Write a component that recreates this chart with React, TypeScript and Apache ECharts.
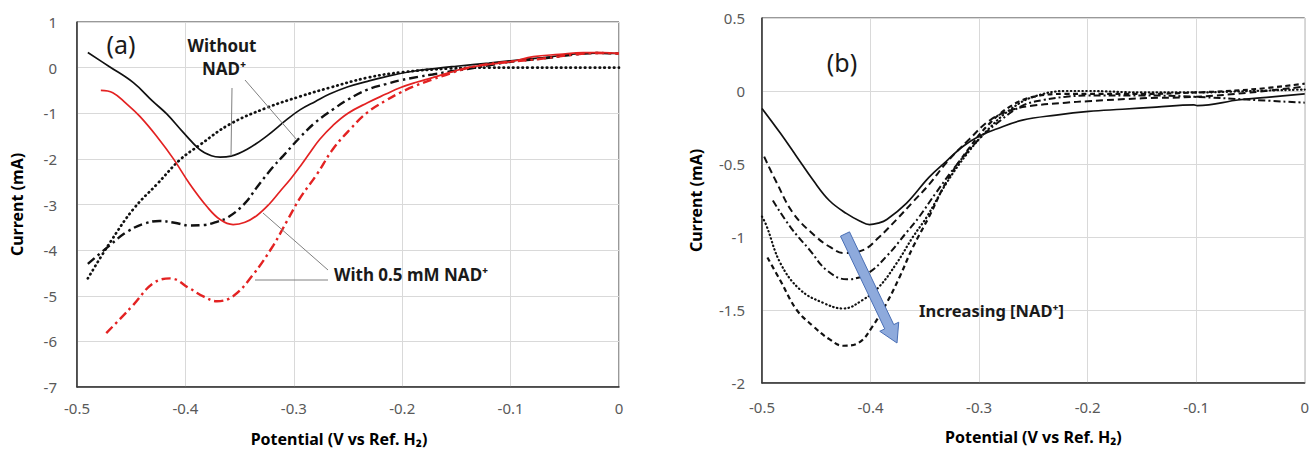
import React, { useEffect, useRef } from "react";
import * as echarts from "echarts";

// ---------- Panel (a) data ----------
const aNoNadSolidV = [-0.49, -0.47, -0.448, -0.43, -0.417, -0.402, -0.387, -0.376, -0.368, -0.358, -0.343, -0.325, -0.306, -0.294, -0.28, -0.267, -0.25, -0.232, -0.21, -0.19, -0.17, -0.15, -0.12, -0.1, -0.07, -0.04, -0.02, 0];
const aNoNadSolidI = [0.33, 0.02, -0.33, -0.74, -1.02, -1.42, -1.79, -1.93, -1.96, -1.94, -1.79, -1.5, -1.13, -0.92, -0.74, -0.58, -0.42, -0.3, -0.17, -0.08, -0.02, 0.03, 0.1, 0.15, 0.22, 0.3, 0.32, 0.31];

const aDottedV = [-0.49, -0.47, -0.448, -0.426, -0.405, -0.387, -0.359, -0.325, -0.294, -0.267, -0.232, -0.2, -0.156, -0.12, -0.08, -0.04, 0];
const aDottedI = [-4.62, -3.85, -3.1, -2.55, -2.02, -1.7, -1.24, -0.88, -0.63, -0.44, -0.22, -0.1, -0.02, 0, 0, 0, 0];

const aDashDotV = [-0.49, -0.47, -0.454, -0.438, -0.424, -0.41, -0.396, -0.383, -0.371, -0.36, -0.345, -0.334, -0.32, -0.31, -0.294, -0.28, -0.264, -0.25, -0.232, -0.215, -0.202, -0.185, -0.172, -0.155, -0.14, -0.12, -0.1, -0.07, -0.04, -0.02, 0];
const aDashDotI = [-4.3, -3.9, -3.6, -3.42, -3.36, -3.4, -3.46, -3.45, -3.38, -3.27, -2.97, -2.62, -2.2, -1.94, -1.52, -1.2, -0.92, -0.7, -0.48, -0.36, -0.28, -0.2, -0.15, -0.08, -0.03, 0.05, 0.13, 0.2, 0.29, 0.32, 0.31];

const aRedSolidV = [-0.478, -0.467, -0.455, -0.442, -0.426, -0.411, -0.396, -0.38, -0.368, -0.356, -0.345, -0.334, -0.323, -0.313, -0.303, -0.294, -0.285, -0.276, -0.264, -0.25, -0.232, -0.215, -0.202, -0.187, -0.172, -0.155, -0.14, -0.12, -0.1, -0.079, -0.055, -0.033, -0.015, 0];
const aRedSolidI = [-0.5, -0.55, -0.78, -1.07, -1.52, -2.0, -2.55, -3.05, -3.33, -3.44, -3.39, -3.24, -3.0, -2.72, -2.44, -2.16, -1.86, -1.57, -1.27, -1.0, -0.77, -0.58, -0.44, -0.32, -0.22, -0.1, 0, 0.07, 0.13, 0.24, 0.29, 0.33, 0.33, 0.31];

const aRedDashDotV = [-0.473, -0.46, -0.448, -0.43, -0.414, -0.396, -0.383, -0.371, -0.356, -0.338, -0.319, -0.306, -0.294, -0.279, -0.264, -0.248, -0.232, -0.215, -0.202, -0.187, -0.172, -0.155, -0.14, -0.12, -0.1, -0.07, -0.04, -0.02, 0];
const aRedDashDotI = [-5.82, -5.5, -5.2, -4.73, -4.62, -4.84, -5.02, -5.12, -5.01, -4.55, -3.9, -3.35, -2.85, -2.35, -1.79, -1.35, -0.98, -0.72, -0.55, -0.39, -0.26, -0.12, -0.01, 0.08, 0.13, 0.2, 0.29, 0.32, 0.31];

// ---------- Panel (b) data ----------
const bSolidV = [-0.5, -0.483, -0.468, -0.453, -0.438, -0.422, -0.41, -0.401, -0.393, -0.385, -0.367, -0.346, -0.33, -0.315, -0.3, -0.284, -0.26, -0.229, -0.199, -0.168, -0.137, -0.102, -0.099, -0.06, -0.03, 0];
const bSolidI = [-0.12, -0.29, -0.45, -0.61, -0.75, -0.84, -0.89, -0.915, -0.905, -0.88, -0.77, -0.59, -0.48, -0.38, -0.31, -0.26, -0.2, -0.165, -0.14, -0.125, -0.11, -0.095, -0.1, -0.06, -0.04, -0.02];

const bLongDashV = [-0.498, -0.487, -0.471, -0.45, -0.437, -0.425, -0.407, -0.392, -0.376, -0.361, -0.346, -0.33, -0.309, -0.29, -0.27, -0.25, -0.22, -0.2, -0.15, -0.1, -0.05, 0];
const bLongDashI = [-0.45, -0.62, -0.84, -1.0, -1.07, -1.11, -1.09, -1.0, -0.88, -0.76, -0.64, -0.49, -0.33, -0.2, -0.13, -0.1, -0.08, -0.07, -0.05, -0.04, -0.01, 0.03];

const bDashDotV = [-0.49, -0.474, -0.456, -0.44, -0.422, -0.403, -0.385, -0.367, -0.355, -0.34, -0.32, -0.3, -0.28, -0.26, -0.24, -0.22, -0.2, -0.15, -0.1, -0.05, 0];
const bDashDotI = [-0.75, -0.93, -1.09, -1.23, -1.29, -1.25, -1.13, -0.97, -0.86, -0.7, -0.5, -0.33, -0.2, -0.1, -0.06, -0.04, -0.03, -0.03, -0.04, -0.06, -0.08];

const bDottedV = [-0.5, -0.496, -0.483, -0.465, -0.444, -0.425, -0.407, -0.392, -0.376, -0.361, -0.348, -0.33, -0.31, -0.29, -0.27, -0.25, -0.22, -0.2, -0.15, -0.1, -0.05, 0];
const bDottedI = [-0.86, -0.92, -1.18, -1.36, -1.45, -1.49, -1.43, -1.34, -1.18, -1.0, -0.86, -0.63, -0.42, -0.25, -0.12, -0.04, 0.0, 0.0, -0.01, -0.01, 0.0, 0.01];

const bShortDashV = [-0.495, -0.483, -0.468, -0.453, -0.438, -0.425, -0.41, -0.398, -0.385, -0.373, -0.361, -0.346, -0.33, -0.31, -0.29, -0.27, -0.25, -0.22, -0.2, -0.15, -0.1, -0.05, 0];
const bShortDashI = [-1.14, -1.3, -1.5, -1.61, -1.7, -1.745, -1.72, -1.61, -1.45, -1.27, -1.07, -0.86, -0.62, -0.4, -0.22, -0.1, -0.04, -0.02, -0.02, -0.02, -0.01, 0.01, 0.05];

// ---------- axes ----------
const xMin = -0.5, xMax = 0, xStep = 0.1;
const aYMin = -7, aYMax = 1, aYStep = 1;
const bYMin = -2, bYMax = 0.5, bYStep = 0.5;

const xTitle = "Potential (V vs Ref. H₂)";
const yTitle = "Current (mA)";

const pairs = (x: number[], y: number[]) => x.map((v, i) => [v, y[i]]);

const FONT = "'Noto Sans', 'Open Sans', sans-serif";
const BLACK = "#111111";
const RED = "#e32222";
const GRAY_LINE = "#808080";

function arrowPoints(sx: number, sy: number, tx: number, ty: number, shaft: number, head: number, headLen: number) {
  const dx = tx - sx, dy = ty - sy;
  const L = Math.sqrt(dx * dx + dy * dy);
  const ux = dx / L, uy = dy / L;
  const nx = -uy, ny = ux;
  const hx = tx - ux * headLen, hy = ty - uy * headLen;
  return [
    [sx + nx * shaft, sy + ny * shaft],
    [hx + nx * shaft, hy + ny * shaft],
    [hx + nx * head, hy + ny * head],
    [tx, ty],
    [hx - nx * head, hy - ny * head],
    [hx - nx * shaft, hy - ny * shaft],
    [sx - nx * shaft, sy - ny * shaft],
  ];
}

function lineSeries(name: string, data: number[][], idx: number, color: string, width: number, type: any, cap: string = "butt") {
  return {
    name,
    type: "line",
    xAxisIndex: idx,
    yAxisIndex: idx,
    data,
    showSymbol: false,
    smooth: 0.4,
    lineStyle: { color, width, type, cap },
    z: 3,
  };
}

export default function App() {
  const ref = useRef<HTMLDivElement>(null);
  useEffect(() => {
    if (!ref.current) return;
    const chart = echarts.init(ref.current, undefined, { renderer: "svg" });

    const xAxisBase = (idx: number, nameGap: number, labelMargin: number, namePad: number[]) => ({
      type: "value",
      gridIndex: idx,
      min: xMin,
      max: xMax,
      interval: xStep,
      name: xTitle,
      nameLocation: "middle",
      nameGap,
      nameTextStyle: { fontFamily: FONT, fontWeight: "bold", fontSize: 16, color: "#000", padding: namePad },
      axisLine: { show: true, onZero: false, lineStyle: { color: "#333", width: 1.5 } },
      axisTick: { show: false },
      axisLabel: { fontFamily: FONT, fontSize: 15, color: "#595959", margin: labelMargin },
      splitLine: { show: true, lineStyle: { color: "#d9d9d9", width: 1 } },
    });
    const yAxisBase = (idx: number, min: number, max: number, interval: number, nameGap: number, labelMargin: number) => ({
      type: "value",
      gridIndex: idx,
      min,
      max,
      interval,
      name: yTitle,
      nameLocation: "middle",
      nameGap,
      nameTextStyle: { fontFamily: FONT, fontWeight: "bold", fontSize: 16, color: "#000" },
      axisLine: { show: true, onZero: false, lineStyle: { color: "#333", width: 1.5 } },
      axisTick: { show: false },
      axisLabel: { fontFamily: FONT, fontSize: 15, color: "#595959", margin: labelMargin },
      splitLine: { show: true, lineStyle: { color: "#d9d9d9", width: 1 } },
    });

    const arrow = arrowPoints(845, 234, 897, 343, 5, 10.5, 18);

    const textStyle = (size: number, weight: string) => ({
      fontFamily: FONT,
      fontSize: size,
      fontWeight: weight,
      fill: "#1a1a1a",
    });

    chart.setOption({
      animation: false,
      backgroundColor: "#ffffff",
      grid: [
        { left: 77, top: 22, width: 542, height: 367, show: true, borderColor: "#333", borderWidth: 1, backgroundColor: "transparent" },
        { left: 762, top: 18, width: 544, height: 365, show: true, borderColor: "#333", borderWidth: 1, backgroundColor: "transparent" },
      ],
      xAxis: [xAxisBase(0, 44, 13, [0, 18, 0, 0]), xAxisBase(1, 46, 16, [0, 0, 0, 0])],
      yAxis: [yAxisBase(0, aYMin, aYMax, aYStep, 52, 20), yAxisBase(1, bYMin, bYMax, bYStep, 58, 17)],
      series: [
        lineSeries("Without NAD+ (background)", pairs(aDottedV, aDottedI), 0, BLACK, 2.7, [0.5, 4.3], "round"),
        lineSeries("Without NAD+", pairs(aNoNadSolidV, aNoNadSolidI), 0, BLACK, 1.7, "solid"),
        lineSeries("Without NAD+ dash-dot", pairs(aDashDotV, aDashDotI), 0, BLACK, 2.4, [9, 4, 2.5, 4]),
        lineSeries("With 0.5 mM NAD+", pairs(aRedSolidV, aRedSolidI), 0, RED, 1.7, "solid"),
        lineSeries("With 0.5 mM NAD+ dash-dot", pairs(aRedDashDotV, aRedDashDotI), 0, RED, 2.4, [9, 4, 2.5, 4]),
        lineSeries("b1", pairs(bSolidV, bSolidI), 1, BLACK, 1.7, "solid"),
        lineSeries("b2", pairs(bLongDashV, bLongDashI), 1, BLACK, 2, [7, 4]),
        lineSeries("b3", pairs(bDashDotV, bDashDotI), 1, BLACK, 2, [7, 3, 2, 3]),
        lineSeries("b4", pairs(bDottedV, bDottedI), 1, BLACK, 2.2, [0.5, 3.4], "round"),
        lineSeries("b5", pairs(bShortDashV, bShortDashI), 1, BLACK, 2.2, [5, 3.5]),
      ],
      graphic: [
        { type: "text", x: 121, y: 44, style: { text: "(a)", align: "center", verticalAlign: "middle", ...textStyle(25, "normal") }, z: 10 },
        { type: "text", x: 222, y: 45, style: { text: "Without", align: "center", verticalAlign: "middle", ...textStyle(17, "bold") }, z: 10 },
        { type: "text", x: 224, y: 68, style: { text: "NAD⁺", align: "center", verticalAlign: "middle", ...textStyle(17, "bold") }, z: 10 },
        { type: "line", shape: { x1: 232, y1: 88, x2: 231, y2: 156 }, style: { stroke: GRAY_LINE, lineWidth: 1 }, z: 10 },
        { type: "line", shape: { x1: 245, y1: 80, x2: 297, y2: 140 }, style: { stroke: GRAY_LINE, lineWidth: 1 }, z: 10 },
        { type: "line", shape: { x1: 263, y1: 213, x2: 328, y2: 270 }, style: { stroke: GRAY_LINE, lineWidth: 1 }, z: 10 },
        { type: "line", shape: { x1: 255, y1: 280, x2: 328, y2: 280 }, style: { stroke: GRAY_LINE, lineWidth: 1 }, z: 10 },
        { type: "text", x: 334, y: 274, style: { text: "With 0.5 mM NAD⁺", align: "left", verticalAlign: "middle", ...textStyle(17, "bold") }, z: 10 },
        { type: "text", x: 842, y: 62, style: { text: "(b)", align: "center", verticalAlign: "middle", ...textStyle(25, "normal") }, z: 10 },
        { type: "polygon", shape: { points: arrow }, style: { fill: "#8eaadc", stroke: "#4a6fb5", lineWidth: 1 }, z: 10 },
        { type: "text", x: 919, y: 310, style: { text: "Increasing [NAD⁺]", align: "left", verticalAlign: "middle", ...textStyle(16.5, "bold") }, z: 10 },
      ],
    });

    return () => chart.dispose();
  }, []);

  return <div ref={ref} style={{ position: "absolute", left: 0, top: 0, width: 1312, height: 452, background: "#fff" }} />;
}
